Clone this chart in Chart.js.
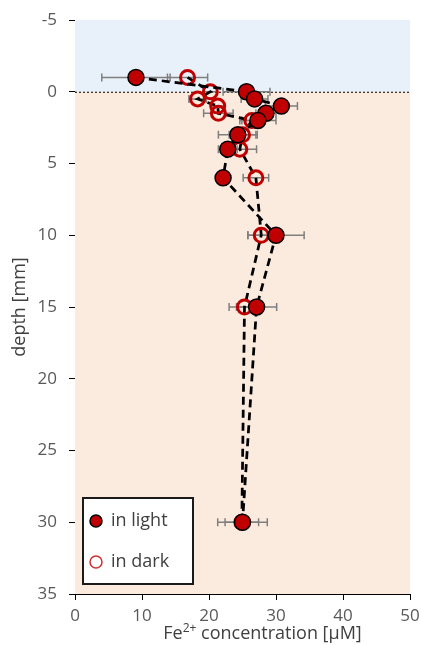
<!DOCTYPE html>
<html>
<head>
<meta charset="utf-8">
<script src="https://cdn.jsdelivr.net/npm/chart.js@4.4.1/dist/chart.umd.min.js"></script>
<style>
  html, body { margin: 0; padding: 0; background: #fff; }
  #wrap { width: 421px; height: 645px; position: relative; }
</style>
</head>
<body>
<div id="wrap"><canvas id="depthChart" width="421" height="645"></canvas></div>
<script>
// Fe2+ profile, incubated in light
const depthLight = [-1, 0, 0.5, 1, 1.5, 2, 3, 4, 6, 10, 15, 30];
const concLight  = [9.1, 25.6, 26.8, 30.8, 28.5, 27.3, 24.3, 22.8, 22.1, 30.0, 27.1, 25.0];
const errLight   = [5.1, 3.5, 2.0, 2.4, 1.5, 2.7, 2.9, 1.4, 0.5, 4.2, 3.0, 3.7];

// same profile, incubated in dark
const depthDark = [-1, 0, 0.5, 1, 1.5, 2, 3, 4, 6, 10, 15, 30];
const concDark  = [16.8, 20.2, 18.3, 21.3, 21.4, 26.4, 25.0, 24.6, 27.0, 27.8, 25.3, 24.9];
const errDark   = [3.0, 1.0, 1.3, 1.0, 2.2, 1.5, 2.0, 2.5, 1.9, 2.0, 2.3, 2.5];

const seriesNames = ['in light', 'in dark'];
const xTicks = [0, 10, 20, 30, 40, 50];
const yTicks = [-5, 0, 5, 10, 15, 20, 25, 30, 35];
const waterDepth = [-5, 0];   // water column above the sediment surface

const FONT = '"Open Sans", Lato, sans-serif';
const RED = '#c00000';
const TEXT = '#404040';

const toPoints = (xs, ys) => xs.map((x, i) => ({x, y: ys[i]}));

// water / sediment background and the surface line
const zonePlugin = {
    id: 'zones',
    beforeDatasetsDraw(chart) {
        const {ctx, chartArea: a, scales: {y}} = chart;
        const top = y.getPixelForValue(waterDepth[0]);
        const surf = y.getPixelForValue(waterDepth[1]);
        ctx.save();
        ctx.fillStyle = '#fbebdf';
        ctx.fillRect(a.left, surf, a.right - a.left, a.bottom - surf);
        ctx.fillStyle = '#e8f0f9';
        ctx.fillRect(a.left, top, a.right - a.left, surf - top);
        ctx.strokeStyle = '#000';
        ctx.lineWidth = 1;
        ctx.setLineDash([2, 2]);
        ctx.beginPath();
        ctx.moveTo(a.left, surf + 0.5);
        ctx.lineTo(a.right, surf + 0.5);
        ctx.stroke();
        ctx.restore();
    }
};

// horizontal error bars with caps
const errorBarPlugin = {
    id: 'errorBars',
    beforeDatasetsDraw(chart) {
        const {ctx, scales: {x, y}} = chart;
        ctx.save();
        ctx.strokeStyle = '#7f7f7f';
        ctx.lineWidth = 1.5;
        chart.data.datasets.forEach(ds => {
            ds.data.forEach((p, i) => {
                const e = ds.errors[i];
                const x0 = x.getPixelForValue(p.x - e);
                const x1 = x.getPixelForValue(p.x + e);
                const py = y.getPixelForValue(p.y);
                ctx.beginPath();
                ctx.moveTo(x0, py); ctx.lineTo(x1, py);
                ctx.moveTo(x0, py - 4); ctx.lineTo(x0, py + 4);
                ctx.moveTo(x1, py - 4); ctx.lineTo(x1, py + 4);
                ctx.stroke();
            });
        });
        ctx.restore();
    }
};

// boxed legend in the lower left corner + x title with a real superscript
const boxLegendPlugin = {
    id: 'boxLegend',
    afterDraw(chart) {
        const {ctx, chartArea: a} = chart;
        const bx = a.left + 8, bw = 110, bh = 86, by = a.bottom - 10 - bh;
        ctx.save();
        ctx.fillStyle = '#fff';
        ctx.fillRect(bx, by, bw, bh);
        ctx.strokeStyle = '#1a1a1a';
        ctx.lineWidth = 2;
        ctx.strokeRect(bx, by, bw, bh);
        chart.data.datasets.forEach((ds, i) => {
            const cy = by + 23 + i * 41;
            const cx = bx + 13;
            ctx.beginPath();
            ctx.arc(cx, cy, 6, 0, Math.PI * 2);
            if (i === 0) {
                ctx.fillStyle = RED; ctx.fill();
                ctx.strokeStyle = '#000'; ctx.lineWidth = 1.5; ctx.stroke();
            } else {
                ctx.strokeStyle = '#d03030'; ctx.lineWidth = 1.5; ctx.stroke();
            }
            ctx.fillStyle = TEXT;
            ctx.font = '18px ' + FONT;
            ctx.textBaseline = 'middle';
            ctx.fillText(ds.label, bx + 28, cy);
        });

        // "Fe2+ concentration [µM]"
        const parts = [['Fe', 18, 0], ['2+', 12, -7], [' concentration [\u03bcM]', 18, 0]];
        let w = 0;
        parts.forEach(([t, s]) => { ctx.font = s + 'px ' + FONT; w += ctx.measureText(t).width; });
        let tx = (a.left + a.right) / 2 + 20 - w / 2;
        const ty = chart.height - 6;
        ctx.fillStyle = TEXT;
        ctx.textBaseline = 'alphabetic';
        parts.forEach(([t, s, dy]) => {
            ctx.font = s + 'px ' + FONT;
            ctx.fillText(t, tx, ty + dy);
            tx += ctx.measureText(t).width;
        });
        ctx.restore();
    }
};

const ctx = document.getElementById('depthChart').getContext('2d');
new Chart(ctx, {
    type: 'scatter',
    data: {
        datasets: [{
            label: seriesNames[0],
            data: toPoints(concLight, depthLight),
            errors: errLight,
            showLine: true,
            borderColor: '#000',
            borderWidth: 2.75,
            borderDash: [8, 5],
            pointRadius: 8,
            pointBackgroundColor: RED,
            pointBorderColor: '#000',
            pointBorderWidth: 1.5,
            order: 0
        }, {
            label: seriesNames[1],
            data: toPoints(concDark, depthDark),
            errors: errDark,
            showLine: true,
            borderColor: '#000',
            borderWidth: 2.75,
            borderDash: [8, 5],
            pointRadius: 7,
            pointBackgroundColor: 'rgba(0,0,0,0)',
            pointBorderColor: RED,
            pointBorderWidth: 3,
            order: 1
        }]
    },
    options: {
        responsive: false,
        animation: false,
        devicePixelRatio: 1,
        layout: { padding: { top: 20, right: 11, bottom: 0, left: 0 } },
        plugins: { legend: { display: false }, tooltip: { enabled: false } },
        scales: {
            x: {
                type: 'linear', min: 0, max: 50,
                afterBuildTicks: s => { s.ticks = xTicks.map(v => ({value: v})); },
                afterFit: s => { s.height = 51; s.paddingLeft = 0; s.paddingRight = 0; },
                ticks: { color: '#595959', font: { family: FONT, size: 17 }, padding: 6 },
                grid: { drawOnChartArea: false, tickLength: 6, color: '#000' },
                border: { color: '#000', width: 1 }
            },
            y: {
                type: 'linear', min: -5, max: 35, reverse: true,
                afterBuildTicks: s => { s.ticks = yTicks.map(v => ({value: v})); },
                afterFit: s => { s.width = 75; s.paddingTop = 0; s.paddingBottom = 0; },
                ticks: { color: '#595959', font: { family: FONT, size: 17 }, padding: 12 },
                grid: { drawOnChartArea: false, tickLength: 6, color: '#000' },
                border: { color: '#000', width: 1 },
                title: {
                    display: true, text: 'depth [mm]',
                    color: TEXT, font: { family: FONT, size: 18 },
                    padding: { top: 9, bottom: 0 }
                }
            }
        }
    },
    plugins: [zonePlugin, errorBarPlugin, boxLegendPlugin]
});
</script>
</body>
</html>
